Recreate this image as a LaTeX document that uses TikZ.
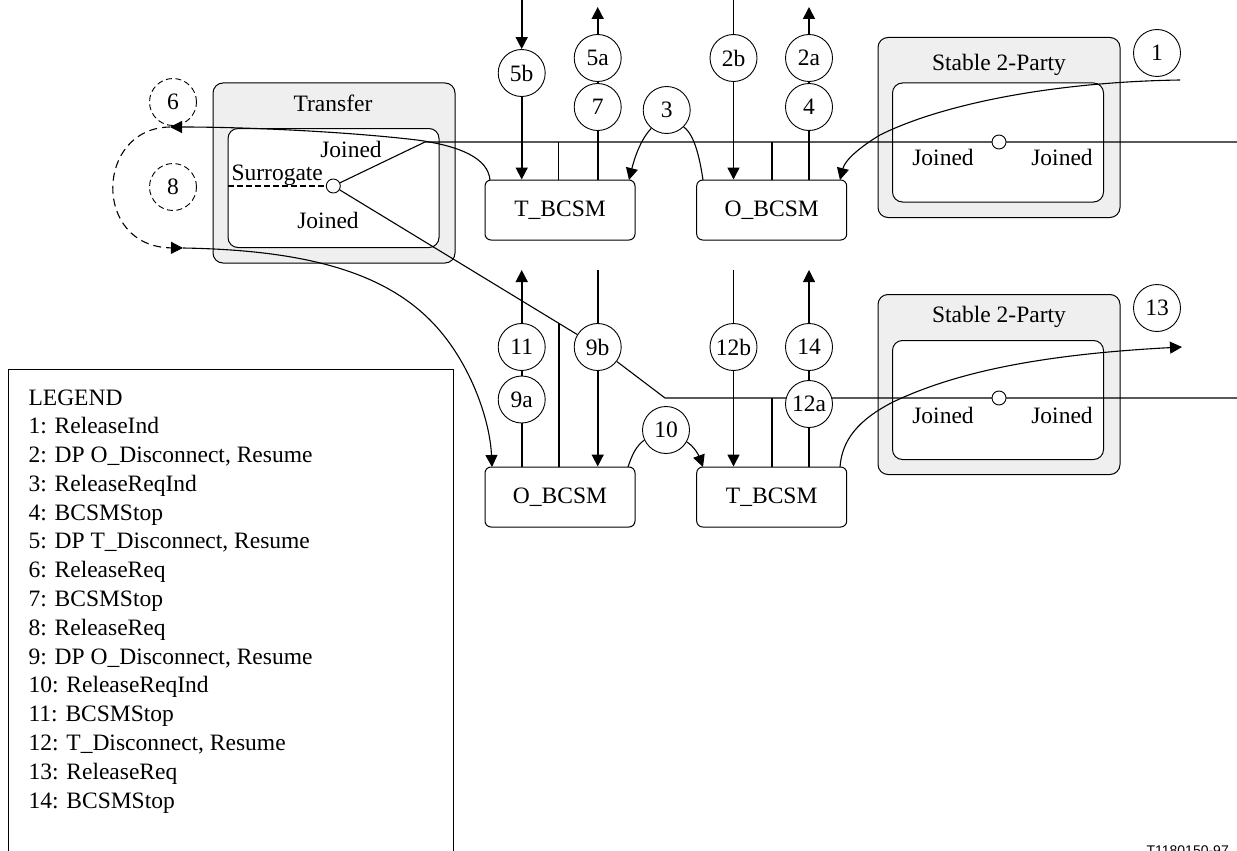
\documentclass[tikz,border=0pt]{standalone}
\usepackage{fontspec}
\setmainfont{Liberation Serif}
\newfontfamily\labelsans{Liberation Sans}
\usetikzlibrary{arrows.meta,calc}
\definecolor{boxgray}{RGB}{239,239,239}
\begin{document}
\begin{tikzpicture}[x=1pt,y=-1pt,
  font=\fontsize{23.5}{28}\selectfont,
  line width=1.1pt,
  outerbox/.style={draw,fill=boxgray,rounded corners=10pt,line width=1pt,inner sep=0,minimum width=242pt,minimum height=180pt},
  innerbox/.style={draw,fill=white,rounded corners=10pt,line width=1pt,inner sep=0,minimum width=211pt,minimum height=119pt},
  bcsm/.style={draw,fill=white,rounded corners=6pt,line width=1pt,minimum width=150pt,minimum height=60pt,inner sep=0},
  num/.style={circle,draw,fill=white,minimum size=47pt,inner sep=0,line width=0.9pt},
  numd/.style={num,dash pattern=on 6pt off 3.5pt},
  junc/.style={circle,draw,fill=white,minimum size=14pt,inner sep=0,line width=0.9pt},
  arrtip/.style={-{Triangle[length=12pt,width=12pt]}},
  sig/.style={line width=1.6pt},
  longdash/.style={dash pattern=on 8pt off 5pt},
  lbl/.style={inner sep=0}]
\useasboundingbox (0,0) rectangle (1237,851);
\clip (0,0) rectangle (1237,851);

% ---------- container boxes ----------
\node[outerbox] (trO) at (334,173) {};
\node[innerbox] (trI) at (333.5,188) {};
\node[lbl] (trT) at (333,103) {Transfer};
\node[lbl] (trJ1) at (351,149) {Joined};
\node[lbl,anchor=west] (trS) at (231,175) {Surrogate};
\node[lbl] (trJ2) at (328,220) {Joined};

\node[outerbox] (s1O) at (999,127.5) {};
\node[innerbox] (s1I) at (998,142.5) {};
\node[lbl] (s1T) at (999,65) {Stable 2-Party};
\node[lbl] (s1J1) at (943,157) {Joined};
\node[lbl] (s1J2) at (1062,157) {Joined};

\node[outerbox] (s2O) at (999,384.5) {};
\node[innerbox] (s2I) at (998,400) {};
\node[lbl] (s2T) at (999,317) {Stable 2-Party};
\node[lbl] (s2J1) at (943,415) {Joined};
\node[lbl] (s2J2) at (1062,415) {Joined};

% ---------- BCSM boxes ----------
\node[bcsm] (tb1) at (560,210) {T\_BCSM};
\node[bcsm] (ob1) at (771.7,210) {O\_BCSM};
\node[bcsm] (ob2) at (560,497) {O\_BCSM};
\node[bcsm] (tb2) at (771.7,497) {T\_BCSM};

% ---------- surrogate junction ----------
\node[junc] (sur) at (333.3,186) {};
\draw[dash pattern=on 6pt off 3pt,line width=1.4pt] (trI.west |- sur) -- (sur);

% ---------- numbered circles ----------
\node[num] (c5b) at (521.7,73) {5b};
\node[num] (c5a) at (597.7,58) {5a};
\node[num] (c7) at (597.7,107) {7};
\node[num] (c2b) at (733.5,58) {2b};
\node[num] (c2a) at (809,58) {2a};
\node[num] (c4) at (809,107) {4};
\node[num] (c3) at (666.7,110) {3};
\node[num] (c1) at (1157,53) {1};
\node[numd] (c6) at (173,102) {6};
\node[numd] (c8) at (173,187) {8};

\node[num] (c11) at (521.7,347) {11};
\node[num] (c9a) at (521.7,399.5) {9a};
\node[num] (c9b) at (597.7,347) {9b};
\node[num] (c12b) at (733.5,347) {12b};
\node[num] (c14) at (809,347) {14};
\node[num] (c10) at (666,430) {10};
\node[num] (c13) at (1157,308) {13};

% ---------- free ends ----------
\coordinate (busT) at (425,142);
\coordinate (busTR) at (1237,142);
\coordinate (busB) at (665,398);
\coordinate (busBR) at (1237,398);
\coordinate (top5b) at (521.7,0);
\coordinate (top5a) at (597.7,7);
\coordinate (top2b) at (733.5,0);
\coordinate (top2a) at (809,7);
\coordinate (up11) at (521.7,270);
\coordinate (up9b) at (597.7,270);
\coordinate (up12b) at (733.5,270);
\coordinate (up14) at (809,270);
\coordinate (end1) at (1180,80);
\coordinate (end13) at (1182,347);
\coordinate (tip6) at (170,127);
\coordinate (tip8) at (183,248);

% ---------- buses ----------
\draw (sur) -- (busT) -- (busTR);
\draw (sur) -- (c9b);
\draw (c9b) -- (busB) -- (busBR);
\coordinate (jn) at ($(sur)!0.8536!(c9b)$);
\draw[sig] (jn) -- (jn |- ob2.north);
\draw[sig] (558.3,142) coordinate (jt1) -- (jt1 |- tb1.north);
\draw[sig] (771.7,142) coordinate (jt2) -- (jt2 |- ob1.north);
\draw[sig] (771.7,398) coordinate (jb2) -- (jb2 |- tb2.north);

\node[num] (c12a) at (809,404) {12a};
\node[junc] (j1) at (999,142) {};
\node[junc] (j2) at (999,398) {};

% ---------- top vertical signals ----------
\draw[sig,arrtip] (top5b) -- (c5b);
\draw[sig,arrtip] (c5b) -- (c5b |- tb1.north);
\draw[sig] (c7 |- tb1.north) -- (c7);
\draw[sig] (c7) -- (c5a);
\draw[sig,arrtip] (c5a) -- (top5a);
\draw[sig] (top2b) -- (c2b);
\draw[sig,arrtip] (c2b) -- (c2b |- ob1.north);
\draw[sig] (c4 |- ob1.north) -- (c4);
\draw[sig] (c4) -- (c2a);
\draw[sig,arrtip] (c2a) -- (top2a);

% ---------- bottom vertical signals ----------
\draw[sig] (c9a |- ob2.north) -- (c9a);
\draw[sig] (c9a) -- (c11);
\draw[sig,arrtip] (c11) -- (up11);
\draw[sig] (up9b) -- (c9b);
\draw[sig,arrtip] (c9b) -- (c9b |- ob2.north);
\draw[sig] (up12b) -- (c12b);
\draw[sig,arrtip] (c12b) -- (c12b |- tb2.north);
\draw (c12a |- tb2.north) -- (c12a);
\draw (c12a) -- (c14);
\draw[arrtip] (c14) -- (up14);

% ---------- curved connectors ----------
\draw[arrtip] (c3.230) .. controls (640,140) and (634,160) .. (629,180);
\draw (c3.315) .. controls (695,135) and (700,160) .. (703,180);
\draw[arrtip] (end1) .. controls (1050,82) and (940,105) .. (880,135)
   .. controls (860,147) and (845,160) .. (840,180);
\draw[arrtip] (490,180) .. controls (488,158) and (460,146) .. (417,140)
   .. controls (350,132) and (250,127) .. (tip6);
\draw[longdash,arrtip] (tip6) .. controls (95,128) and (92,247) .. (tip8);
\draw[arrtip] (tip8) .. controls (300,250) and (380,270) .. (430,320)
   .. controls (470,360) and (490,420) .. (492,467);
\draw (628,467) .. controls (632,455) and (636,446) .. (c10.205);
\draw[arrtip] (c10.330) .. controls (694,446) and (699,456) .. (703,467);
\draw[arrtip] (840,467) .. controls (842,440) and (858,420) .. (893,402)
   .. controls (950,375) and (1030,355) .. (end13);

% ---------- legend ----------
\draw[line width=1pt] (8.3,860) |- (453.3,369.3) -- (453.3,860);
\foreach \t [count=\i from 0] in {LEGEND,
  {1: ReleaseInd},
  {2: DP O\_Disconnect, Resume},
  {3: ReleaseReqInd},
  {4: BCSMStop},
  {5: DP T\_Disconnect, Resume},
  {6: ReleaseReq},
  {7: BCSMStop},
  {8: ReleaseReq},
  {9: DP O\_Disconnect, Resume},
  {10: ReleaseReqInd},
  {11: BCSMStop},
  {12: T\_Disconnect, Resume},
  {13: ReleaseReq},
  {14: BCSMStop}}
  \node[lbl,anchor=base west] (leg\i) at (28,405+28.79*\i) {\t};

\node[lbl,anchor=north west,font=\labelsans\fontsize{14}{16}\selectfont] (tag) at (1146,845) {T1180150-97};
\end{tikzpicture}
\end{document}
